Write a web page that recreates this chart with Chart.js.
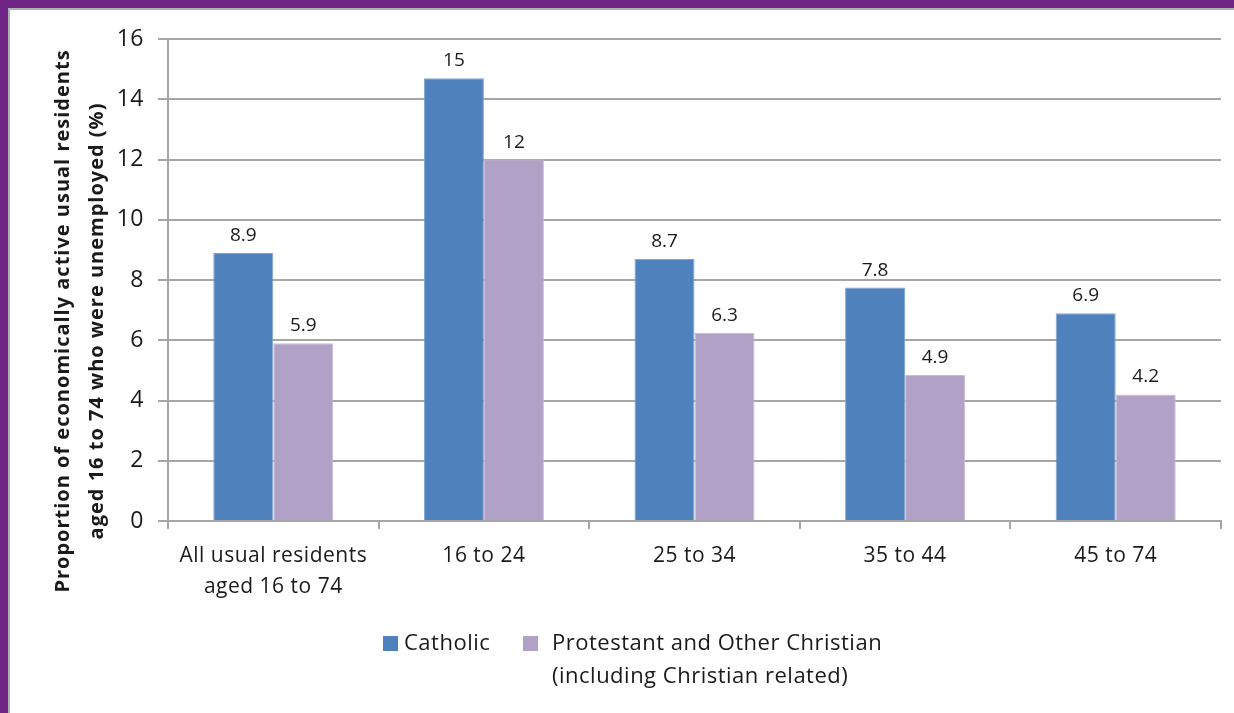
<!DOCTYPE html>
<html>
<head>
<meta charset="utf-8">
<script src="https://cdn.jsdelivr.net/npm/chart.js@4.4.1/dist/chart.umd.min.js"></script>
<style>
  html, body { margin: 0; padding: 0; background: #6f2586; overflow: hidden; }
  #frame { position: absolute; left: 8px; top: 8px; width: 1240px; height: 720px;
           background: #fff; border-left: 2px solid #b0b0b0; border-top: 2px solid #b0b0b0; }
  #wrap { position: absolute; left: 0; top: 0; width: 1234px; height: 713px; }
</style>
</head>
<body>
<div id="frame"></div>
<div id="wrap"><canvas id="unemploymentChart" width="1234" height="713"></canvas></div>
<script>
// Categories and values
const categories = [['All usual residents', 'aged 16 to 74'], '16 to 24', '25 to 34', '35 to 44', '45 to 74'];
const catholicValues = [8.9, 14.7, 8.7, 7.75, 6.9];
const catholicLabels = ['8.9', '15', '8.7', '7.8', '6.9'];
const protestantValues = [5.9, 12.0, 6.25, 4.85, 4.2];
const protestantLabels = ['5.9', '12', '6.3', '4.9', '4.2'];
const seriesNames = [['Catholic'], ['Protestant and Other Christian', '(including Christian related)']];
const yTitle = ['Proportion of economically active usual residents', 'aged 16 to 74 who were unemployed (%)'];

const FONT = '"Open Sans", Lato, sans-serif';
const TEXT = '#1a1a1a';

// Espacement des lettres pour les libellés des axes
const spacing = {
    id: 'spacing',
    beforeDraw(chart) { chart.ctx.letterSpacing = '0.5px'; }
};

// Valeurs au-dessus des barres
const valueLabels = {
    id: 'valueLabels',
    afterDatasetsDraw(chart) {
        const ctx = chart.ctx;
        ctx.save();
        ctx.letterSpacing = '0px';
        ctx.font = '19px ' + FONT;
        ctx.fillStyle = TEXT;
        ctx.textAlign = 'center';
        ctx.textBaseline = 'alphabetic';
        chart.data.datasets.forEach((ds, i) => {
            chart.getDatasetMeta(i).data.forEach((bar, j) => {
                ctx.fillText(ds.valueText[j], bar.x, bar.y - 12);
            });
        });
        ctx.restore();
    }
};

// Titre vertical de l'axe Y
const yTitlePlugin = {
    id: 'yTitlePlugin',
    afterDraw(chart) {
        const ctx = chart.ctx;
        ctx.save();
        ctx.letterSpacing = '1px';
        ctx.font = 'bold 20px ' + FONT;
        ctx.fillStyle = TEXT;
        ctx.textAlign = 'center';
        ctx.textBaseline = 'middle';
        ctx.translate(0, 321);
        ctx.rotate(-Math.PI / 2);
        ctx.fillText(yTitle[0], 0, 63);
        ctx.fillText(yTitle[1], 0, 97);
        ctx.restore();
    }
};

// Légende dessinée à la main (libellé sur deux lignes)
const customLegend = {
    id: 'customLegend',
    afterDraw(chart) {
        const ctx = chart.ctx;
        const starts = [383, 523];
        ctx.save();
        ctx.letterSpacing = '0.5px';
        ctx.font = '22px ' + FONT;
        ctx.fillStyle = TEXT;
        ctx.textBaseline = 'middle';
        chart.data.datasets.forEach((ds, i) => {
            const x = starts[i];
            ctx.fillStyle = ds.backgroundColor;
            ctx.fillRect(x, 636, 15, 15);
            ctx.fillStyle = TEXT;
            seriesNames[i].forEach((line, k) => {
                ctx.fillText(line, x + (i === 0 ? 21 : 29), 644 + k * 33);
            });
        });
        ctx.restore();
    }
};

function createUnemploymentChart() {
    const ctx = document.getElementById('unemploymentChart').getContext('2d');
    new Chart(ctx, {
        type: 'bar',
        data: {
            labels: categories,
            datasets: [{
                label: 'Catholic',
                data: catholicValues,
                valueText: catholicLabels,
                backgroundColor: '#4f81bd',
                borderColor: '#7fa3d0',
                borderWidth: 1,
                barPercentage: 1,
                categoryPercentage: 0.57
            }, {
                label: 'Protestant and Other Christian (including Christian related)',
                data: protestantValues,
                valueText: protestantLabels,
                backgroundColor: '#b2a1c7',
                borderColor: '#c8bcd8',
                borderWidth: 1,
                barPercentage: 1,
                categoryPercentage: 0.57
            }]
        },
        options: {
            responsive: false,
            animation: false,
            layout: { padding: { top: 39, right: 13, left: 0, bottom: 0 } },
            plugins: {
                legend: { display: false },
                tooltip: { enabled: false }
            },
            scales: {
                x: {
                    afterFit(scale) { scale.height = 192; },
                    grid: { drawOnChartArea: false, drawTicks: true, tickLength: 8, color: '#a6a6a6', lineWidth: 2, offset: true },
                    border: { color: '#a6a6a6', width: 2 },
                    ticks: { color: TEXT, font: { family: FONT, size: 21, lineHeight: 1.5 }, padding: 11, maxRotation: 0 }
                },
                y: {
                    min: 0,
                    max: 16,
                    afterFit(scale) { scale.width = 168; },
                    grid: { color: '#a6a6a6', lineWidth: 2, tickLength: 10 },
                    border: { color: '#a6a6a6', width: 2 },
                    ticks: { stepSize: 2, color: TEXT, font: { family: FONT, size: 23 }, padding: 14 }
                }
            }
        },
        plugins: [spacing, valueLabels, yTitlePlugin, customLegend]
    });
}

window.onload = function() {
    createUnemploymentChart();
};
</script>
</body>
</html>
